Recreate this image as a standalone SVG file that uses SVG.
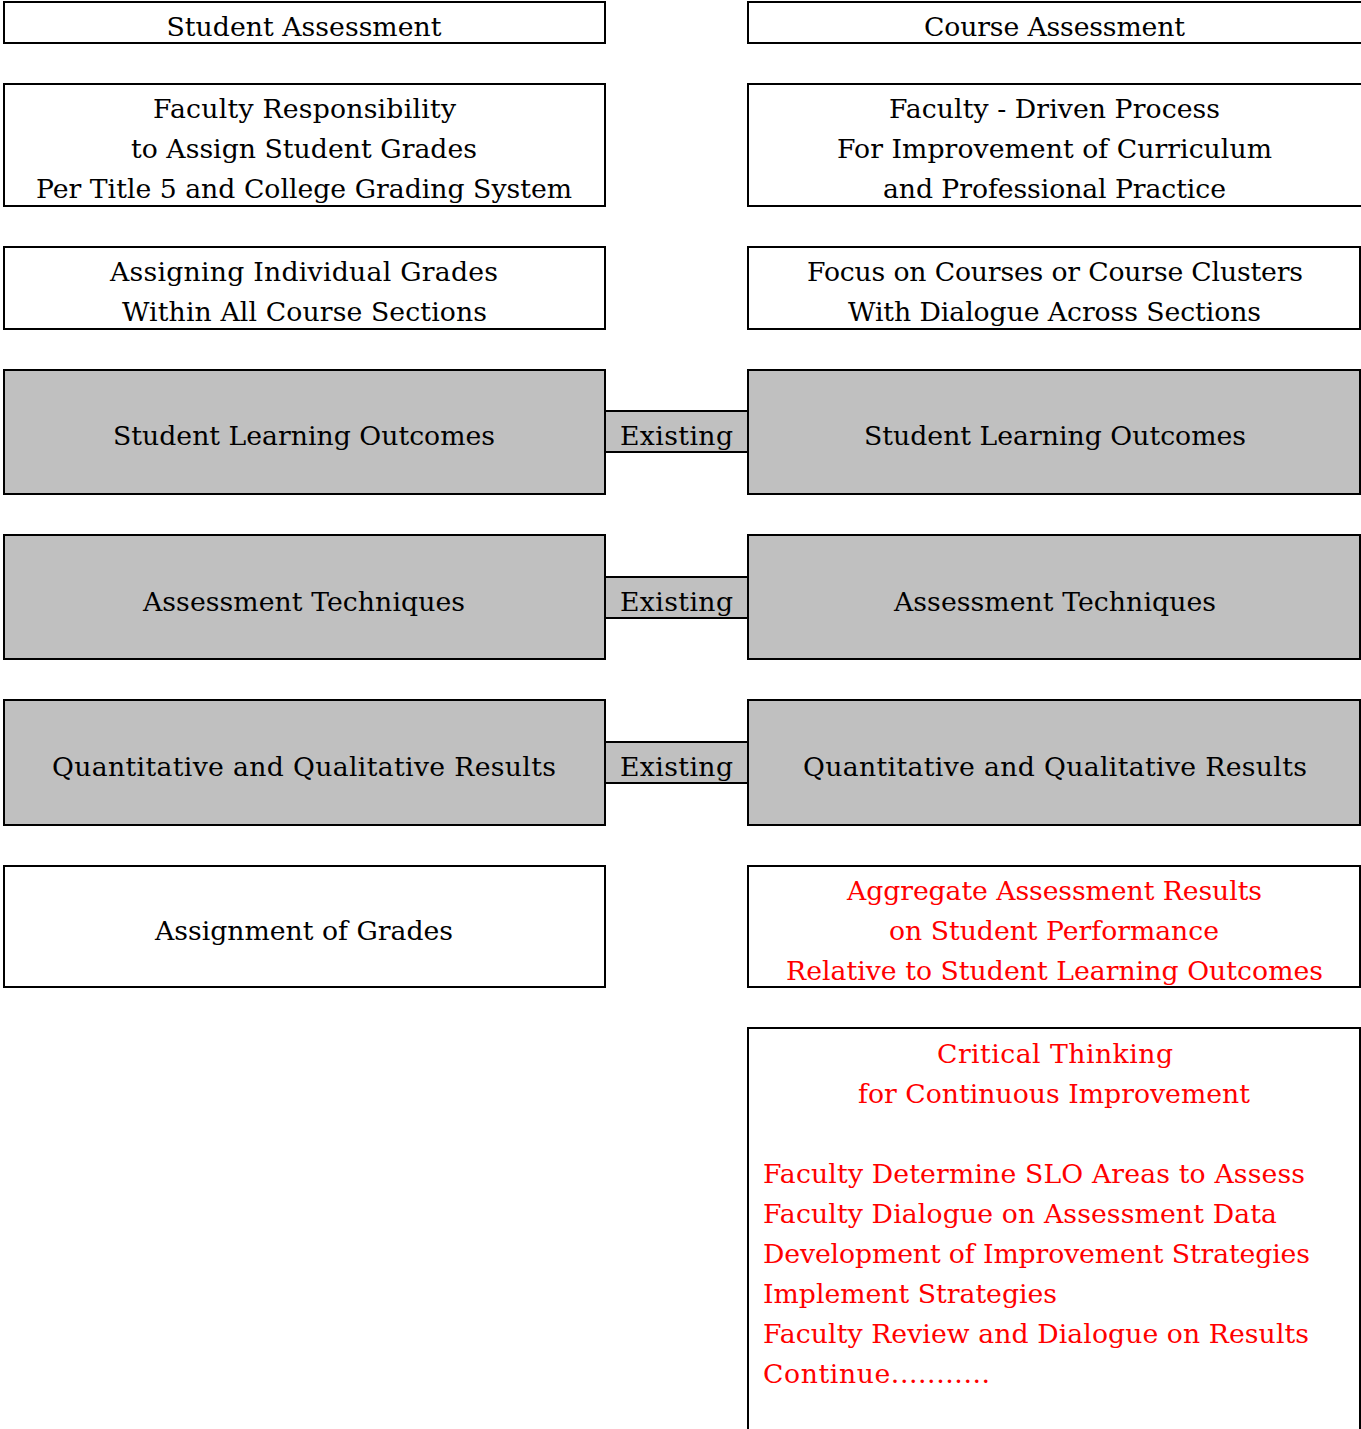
<svg xmlns="http://www.w3.org/2000/svg" width="1361" height="1429" viewBox="0 0 1361 1429">
<style>
.box{fill:#fff;stroke:#000;stroke-width:2}
.gbox{fill:#c0c0c0;stroke:#000;stroke-width:2}
text{font-family:"DejaVu Serif","Liberation Serif",serif;font-size:26.7px;fill:#000;text-anchor:middle}
.red{fill:#ff0000}
.left{text-anchor:start}
</style>
<rect width="1361" height="1429" fill="#fff"/>
<g id="connectors"/>
<g id="student-assessment">
<rect class="box" x="4" y="2" width="601" height="41"/>
<text x="304" y="36" textLength="275">Student Assessment</text>
</g>
<g id="course-assessment">
<path class="box" d="M1362,2 H748 V43 H1362"/>
<text x="1054.5" y="36" textLength="261">Course Assessment</text>
</g>
<g id="faculty-responsibility">
<rect class="box" x="4" y="84" width="601" height="122"/>
<text x="304.5" y="118" textLength="303">Faculty Responsibility</text>
<text x="304" y="158" textLength="346">to Assign Student Grades</text>
<text x="304" y="198" textLength="536">Per Title 5 and College Grading System</text>
</g>
<g id="faculty-driven">
<path class="box" d="M1362,84 H748 V206 H1362"/>
<text x="1054.5" y="118" textLength="331">Faculty - Driven Process</text>
<text x="1054.5" y="158" textLength="435">For Improvement of Curriculum</text>
<text x="1054.5" y="198" textLength="343">and Professional Practice</text>
</g>
<g id="assigning-grades">
<rect class="box" x="4" y="247" width="601" height="82"/>
<text x="304" y="281" textLength="388">Assigning Individual Grades</text>
<text x="304.5" y="321" textLength="365">Within All Course Sections</text>
</g>
<g id="focus-courses">
<rect class="box" x="748" y="247" width="612" height="82"/>
<text x="1055" y="281" textLength="496">Focus on Courses or Course Clusters</text>
<text x="1054.5" y="321" textLength="413">With Dialogue Across Sections</text>
</g>
<g id="slo-left">
<rect class="gbox" x="4" y="370" width="601" height="124"/>
<text x="304" y="445" textLength="382">Student Learning Outcomes</text>
</g>
<g id="existing-1">
<rect class="gbox" x="605" y="411" width="143" height="41"/>
<text x="676.5" y="445" textLength="113">Existing</text>
</g>
<g id="slo-right">
<rect class="gbox" x="748" y="370" width="612" height="124"/>
<text x="1055" y="445" textLength="382">Student Learning Outcomes</text>
</g>
<g id="techniques-left">
<rect class="gbox" x="4" y="535" width="601" height="124"/>
<text x="304" y="611" textLength="322">Assessment Techniques</text>
</g>
<g id="existing-2">
<rect class="gbox" x="605" y="577" width="143" height="41"/>
<text x="676.5" y="611" textLength="113">Existing</text>
</g>
<g id="techniques-right">
<rect class="gbox" x="748" y="535" width="612" height="124"/>
<text x="1055" y="611" textLength="322">Assessment Techniques</text>
</g>
<g id="results-left">
<rect class="gbox" x="4" y="700" width="601" height="125"/>
<text x="304" y="776" textLength="504">Quantitative and Qualitative Results</text>
</g>
<g id="existing-3">
<rect class="gbox" x="605" y="742" width="143" height="41"/>
<text x="676.5" y="776" textLength="113">Existing</text>
</g>
<g id="results-right">
<rect class="gbox" x="748" y="700" width="612" height="125"/>
<text x="1055" y="776" textLength="504">Quantitative and Qualitative Results</text>
</g>
<g id="assignment-grades">
<rect class="box" x="4" y="866" width="601" height="121"/>
<text x="304" y="940" textLength="298">Assignment of Grades</text>
</g>
<g id="aggregate-results">
<rect class="box" x="748" y="866" width="612" height="121"/>
<text class="red" x="1054.5" y="900" textLength="415">Aggregate Assessment Results</text>
<text class="red" x="1054" y="940" textLength="330">on Student Performance</text>
<text class="red" x="1054.5" y="980" textLength="537">Relative to Student Learning Outcomes</text>
</g>
<g id="critical-thinking">
<path class="box" d="M748,1431 V1028 H1360 V1431"/>
<text class="red" x="1055" y="1063" textLength="236">Critical Thinking</text>
<text class="red" x="1054" y="1103" textLength="392">for Continuous Improvement</text>
<text class="red left" x="763" y="1183" textLength="542">Faculty Determine SLO Areas to Assess</text>
<text class="red left" x="763" y="1223" textLength="514">Faculty Dialogue on Assessment Data</text>
<text class="red left" x="763" y="1263" textLength="547">Development of Improvement Strategies</text>
<text class="red left" x="763" y="1303" textLength="294">Implement Strategies</text>
<text class="red left" x="763" y="1343" textLength="546">Faculty Review and Dialogue on Results</text>
<text class="red left" x="763" y="1383" textLength="227">Continue...........</text>
</g>
</svg>
